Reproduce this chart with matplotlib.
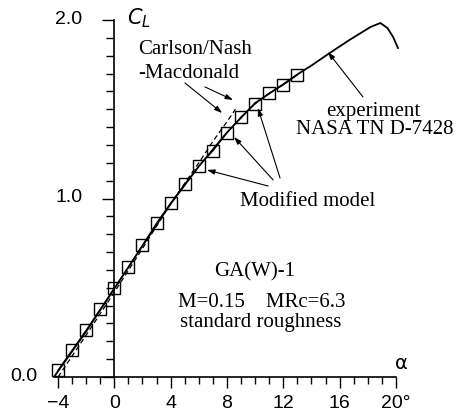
import matplotlib
matplotlib.use("Agg")
import matplotlib.pyplot as plt
import numpy as np

# experiment, NASA TN D-7428 (solid)
exp_alpha = [-4.2, -2, 0, 2, 4, 6, 8, 10, 12, 13, 14, 15.3, 16.7, 18.2, 18.9, 19.4, 19.8, 20.15]
exp_cl = [0.01, 0.255, 0.495, 0.735, 0.97, 1.18, 1.37, 1.535, 1.64, 1.695, 1.745,
          1.815, 1.888, 1.961, 1.983, 1.955, 1.905, 1.843]

# modified model (squares)
mod_alpha = list(range(-4, 14))
mod_cl = [0.039, 0.151, 0.263, 0.381, 0.499, 0.616, 0.739, 0.863, 0.975,
          1.081, 1.182, 1.266, 1.367, 1.457, 1.529, 1.591, 1.636, 1.692]

# Carlson/Nash-Macdonald (dashed)
cnm_alpha = [-4, -2, 0, 2, 4, 6, 7, 8, 8.6]
cnm_cl = [0.0, 0.235, 0.475, 0.72, 0.97, 1.2, 1.32, 1.43, 1.50]

xtick_major = [-4, 0, 4, 8, 12, 16, 20]
xtick_labels = ["\u22124", "0", "4", "8", "12", "16", "20\u00b0"]
xtick_minor = list(range(-4, 21))
ytick_major = [0.0, 1.0, 2.0]
ytick_labels = ["0.0", "1.0", "2.0"]
ytick_minor = [round(0.1 * i, 1) for i in range(21)]

SERIF = "Liberation Serif"
SANS = "Liberation Sans"

fig = plt.figure(figsize=(4.57, 4.19), dpi=100, facecolor="white")
ax = fig.add_axes([0, 0, 1, 1])
ax.set_xlim(-8.12, 24.34)
ax.set_ylim(-0.235, 2.112)
ax.patch.set_alpha(0)

ax.plot(exp_alpha, exp_cl, color="black", lw=1.3, zorder=3)
ax.plot(cnm_alpha, cnm_cl, color="black", lw=0.9, ls=(0, (4, 2.5)), zorder=3)
ax.plot(mod_alpha, mod_cl, color="black", lw=0.8, marker="s", ms=9,
        mfc="none", mec="black", mew=1.0, zorder=4)

# axes: y axis at alpha = 0, x axis at CL = 0
for s in ["top", "right"]:
    ax.spines[s].set_visible(False)
ax.spines["left"].set_position(("data", 0))
ax.spines["bottom"].set_position(("data", 0))
ax.spines["left"].set_bounds(0, 2.0)
ax.spines["bottom"].set_bounds(-4.3, 20)
ax.spines["left"].set_linewidth(1.2)
ax.spines["bottom"].set_linewidth(1.2)

ax.set_xticks(xtick_major)
ax.set_xticks(xtick_minor, minor=True)
ax.set_xticklabels(xtick_labels, fontsize=14, fontfamily=SANS)
ax.tick_params(axis="x", which="major", direction="out", length=8, width=1.0, pad=5)
ax.tick_params(axis="x", which="minor", direction="out", length=5, width=1.0)

ax.set_yticks(ytick_major)
ax.set_yticks(ytick_minor, minor=True)
ax.set_yticklabels([])
ax.tick_params(axis="y", which="major", direction="out", length=9, width=1.0)
ax.tick_params(axis="y", which="minor", direction="out", length=6, width=1.0)

ylabel_x = [-6.4, -3.25, -3.25]
for yv, lab, xv in zip(ytick_major, ytick_labels, ylabel_x):
    ax.text(xv, yv + 0.005, lab, ha="center", va="center", fontsize=14, fontfamily=SANS)

ax.text(0.9, 2.075, "$C_L$", ha="left", va="top", fontsize=15)
ax.text(20.42, 0.075, "\u03b1", ha="center", va="center", fontsize=14, fontfamily="DejaVu Sans")

txt = dict(fontsize=15, fontfamily=SERIF, color="black")
ax.text(1.69, 1.832, "Carlson/Nash", ha="left", va="center", **txt)
ax.text(1.69, 1.703, "-Macdonald", ha="left", va="center", **txt)
ax.text(18.37, 1.485, "experiment", ha="center", va="center", **txt)
ax.text(18.48, 1.389, "NASA TN D-7428", ha="center", va="center", **txt)
ax.text(13.7, 0.985, "Modified model", ha="center", va="center", **txt)
ax.text(10.0, 0.588, "GA(W)-1", ha="center", va="center", **txt)
ax.text(10.45, 0.415, "M=0.15    MRc=6.3", ha="center", va="center", **txt)
ax.text(10.43, 0.308, "standard roughness", ha="center", va="center", **txt)

arrow = dict(arrowstyle="-|>,head_length=0.45,head_width=0.15", color="black",
             lw=0.8, shrinkA=0, shrinkB=0)
arrows = [
    ((5.02, 1.647), (7.66, 1.479)),
    ((6.44, 1.625), (8.43, 1.552)),
    ((17.66, 1.569), (15.17, 1.821)),
    ((10.93, 1.070), (6.58, 1.160)),
    ((11.28, 1.104), (8.50, 1.345)),
    ((11.77, 1.115), (10.2, 1.507)),
]
for start, end in arrows:
    ax.annotate("", xy=end, xytext=start, arrowprops=arrow)

fig.savefig("out.png", dpi=100, facecolor="white")
